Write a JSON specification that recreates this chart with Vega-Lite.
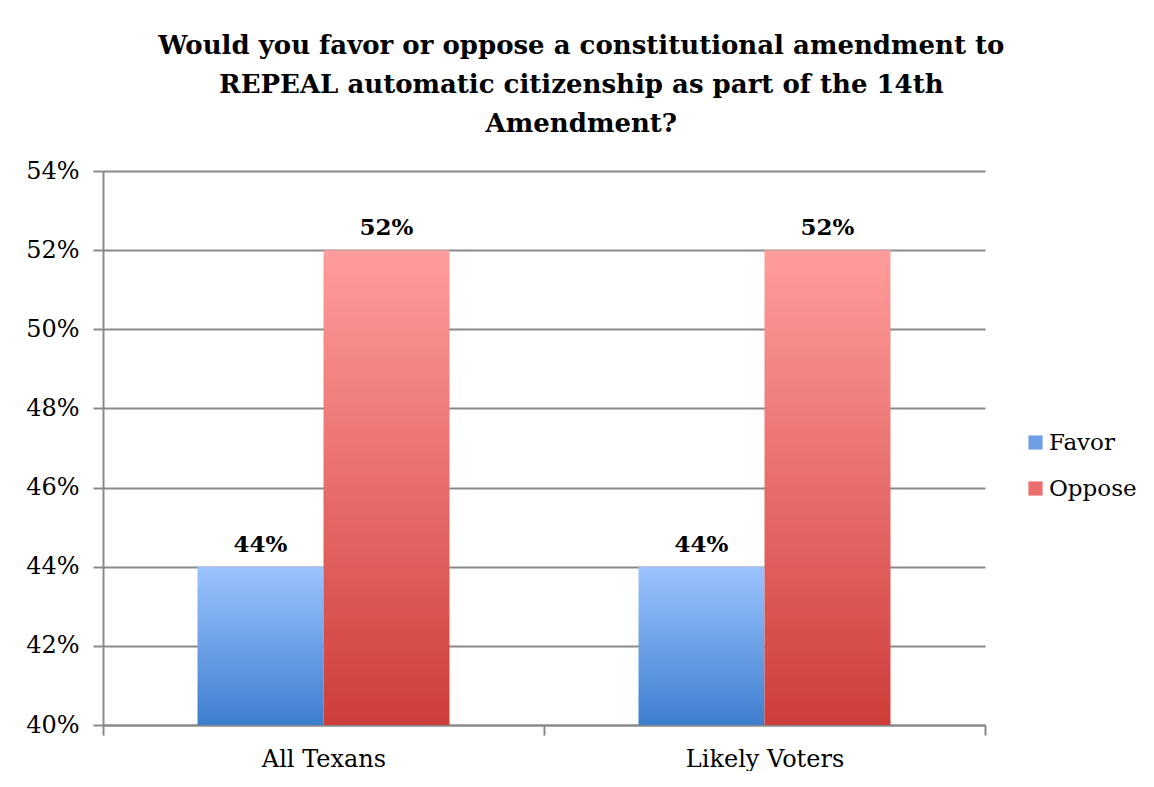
{
  "$schema": "https://vega.github.io/schema/vega-lite/v6.json",
  "width": 882,
  "height": 554,
  "padding": {"left": 25, "top": 33, "right": 0, "bottom": 0},
  "background": "white",
  "title": {
    "text": ["Would you favor or oppose a constitutional amendment to", "REPEAL automatic citizenship as part of the 14th", "Amendment?"],
    "font": "DejaVu Serif",
    "fontSize": 26,
    "fontWeight": "bold",
    "lineHeight": 39,
    "anchor": "middle",
    "frame": "bounds",
    "offset": 22,
    "color": "black"
  },
  "data": {
    "values": [
      {"group": "All Texans", "series": "Favor", "value": 0.44},
      {"group": "All Texans", "series": "Oppose", "value": 0.52},
      {"group": "Likely Voters", "series": "Favor", "value": 0.44},
      {"group": "Likely Voters", "series": "Oppose", "value": 0.52}
    ]
  },
  "encoding": {
    "x": {
      "field": "group",
      "type": "nominal",
      "sort": ["All Texans", "Likely Voters"],
      "scale": {"paddingInner": 0, "paddingOuter": 0},
      "axis": {
        "title": null,
        "labelAngle": 0,
        "labelFont": "DejaVu Serif",
        "labelFontSize": 24,
        "labelColor": "black",
        "labelPadding": 12,
        "tickBand": "extent",
        "tickSize": 10,
        "tickColor": "#898989",
        "tickWidth": 2,
        "domainColor": "#898989",
        "domainWidth": 2,
        "grid": false
      }
    },
    "xOffset": {
      "field": "series",
      "type": "nominal",
      "sort": ["Favor", "Oppose"],
      "scale": {"paddingInner": 0, "paddingOuter": 0.75}
    },
    "y": {
      "field": "value",
      "type": "quantitative",
      "scale": {"domain": [0.4, 0.54], "zero": false, "nice": false},
      "axis": {
        "title": null,
        "values": [0.4, 0.42, 0.44, 0.46, 0.48, 0.5, 0.52, 0.54],
        "format": ".0%",
        "labelFont": "DejaVu Serif",
        "labelFontSize": 24,
        "labelColor": "black",
        "labelPadding": 14,
        "tickSize": 10,
        "tickColor": "#898989",
        "tickWidth": 2,
        "domainColor": "#898989",
        "domainWidth": 2,
        "grid": true,
        "gridColor": "#898989",
        "gridWidth": 2
      }
    }
  },
  "layer": [
    {
      "transform": [{"filter": "datum.series === 'Favor'"}],
      "mark": {"type": "bar", "color": {"gradient": "linear", "x1": 0, "y1": 0, "x2": 0, "y2": 1, "stops": [{"offset": 0, "color": "#9CC3FF"}, {"offset": 1, "color": "#3D7ECE"}]}},
      "encoding": {"y2": {"datum": 0.4}}
    },
    {
      "transform": [{"filter": "datum.series === 'Oppose'"}],
      "mark": {"type": "bar", "color": {"gradient": "linear", "x1": 0, "y1": 0, "x2": 0, "y2": 1, "stops": [{"offset": 0, "color": "#FF9D9C"}, {"offset": 1, "color": "#CE3D39"}]}},
      "encoding": {"y2": {"datum": 0.4}}
    },
    {
      "mark": {"type": "square", "opacity": 0, "size": 1},
      "encoding": {
        "color": {
          "field": "series",
          "type": "nominal",
          "scale": {"domain": ["Favor", "Oppose"], "range": ["#6C9FE6", "#EC6E6C"]},
          "legend": {
            "title": null,
            "orient": "none",
            "legendX": 921,
            "legendY": 260,
            "symbolType": "square",
            "symbolSize": 200,
            "symbolOpacity": 1,
            "symbolStrokeWidth": 0,
            "labelFont": "DejaVu Serif",
            "labelFontSize": 23,
            "labelColor": "black",
            "labelOffset": 2,
            "rowPadding": 22
          }
        }
      }
    },
    {
      "mark": {"type": "text", "baseline": "bottom", "dy": -10, "font": "DejaVu Serif", "fontSize": 23, "fontWeight": "bold", "color": "black"},
      "encoding": {
        "text": {"field": "value", "type": "quantitative", "format": ".0%"}
      }
    }
  ],
  "config": {"view": {"stroke": null}}
}
